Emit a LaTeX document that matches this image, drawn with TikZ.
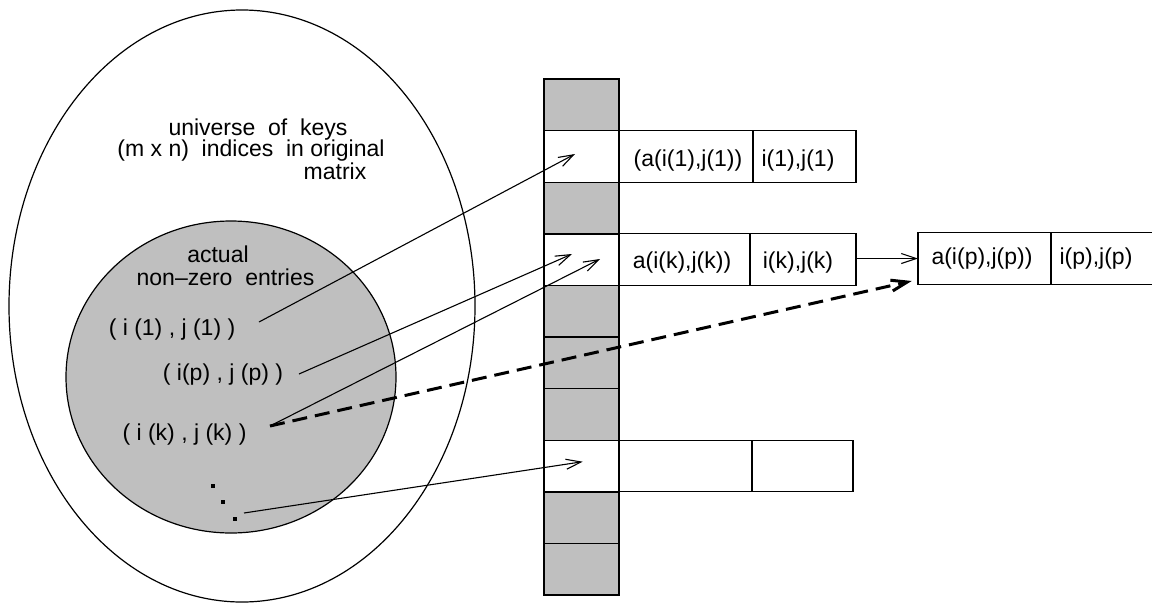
\documentclass[tikz,border=0pt]{standalone}
\usepackage{fontspec}
\setmainfont{Liberation Sans}
\usetikzlibrary{arrows.meta}
\definecolor{slotgray}{RGB}{191,191,191}
\tikzset{
  lbl/.style={font=\fontsize{23}{23}\selectfont, inner sep=0pt, anchor=base},
  slot/.style={minimum width=75pt, minimum height=51.6pt, inner sep=0pt, outer sep=0pt,
               fill=slotgray},
  slotfree/.style={slot, fill=white},
  slotline/.style={line width=1.4pt},
  field/.style={draw, line width=1.3pt, minimum height=51.6pt, inner sep=0pt,
                outer sep=0pt, fill=white},
  ptr/.style={line width=1.1pt, -{Straight Barb[length=15pt,width=10pt]}},
  chain/.style={line width=3pt, dash pattern=on 15pt off 8pt,
                -{Straight Barb[length=16pt,width=11pt]}},
}
\begin{document}
\begin{tikzpicture}[x=1pt,y=-1pt]
\useasboundingbox (0,0) rectangle (1152,603);
\clip (0,0) rectangle (1152,603);

% key sets
\draw[line width=1.2pt] (242,306) ellipse [x radius=233, y radius=296];
\draw[line width=1.2pt, fill=slotgray] (231,377) ellipse [x radius=165, y radius=156];

\node[lbl] (u1) at (258,135) {universe\ \ of\ \ keys};
\node[lbl] (u2) at (251,156.7) {(m x n)\ \ indices\ \ in original};
\node[lbl] (u3) at (335,179) {matrix};
\node[lbl] (a1) at (218,262.7) {actual};
\node[lbl] (a2) at (225.5,285) {non--zero\ \ entries};
\node[lbl] (k1) at (172,335) {( i (1) , j (1) )};
\node[lbl] (kp) at (223,380) {( i(p) , j (p) )};
\node[lbl] (kk) at (184.5,440) {( i (k) , j (k) )};
\fill (211.3,483.7) rectangle ++(4,4);
\fill (221.3,499.7) rectangle ++(4,4);
\fill (232.7,517) rectangle ++(4,4);

% hash table slots: fills first, then outlines so shared edges stay full width
\foreach \i in {0,2,4,5,6,8,9} {
  \node[slot] (c\i) at (581.5,{104.8+51.6*\i}) {};
}
\foreach \i in {1,3,7} {
  \node[slotfree] (c\i) at (581.5,{104.8+51.6*\i}) {};
}
\foreach \i in {0,...,9} {
  \draw[slotline] (c\i.north west) rectangle (c\i.south east);
}

% records
\node[field, minimum width=134pt] (r11) at (686,156.4) {};
\node[field, minimum width=103pt] (r12) at (804.5,156.4) {};
\node[field, minimum width=131pt] (r41) at (684.5,259.6) {};
\node[field, minimum width=106pt] (r42) at (803,259.6) {};
\node[field, minimum width=133pt] (r81) at (685.5,466) {};
\node[field, minimum width=101pt] (r82) at (802.5,466) {};
\node[field, minimum width=133pt] (p1) at (984.5,258.5) {};
\node[field, minimum width=134pt] (p2) at (1118,258.5) {};

\node[lbl] (t11) at (688,166) {(a(i(1),j(1))};
\node[lbl] (t12) at (798,166) {i(1),j(1)};
\node[lbl] (t41) at (682,268.3) {a(i(k),j(k))};
\node[lbl] (t42) at (798,268.3) {i(k),j(k)};
\node[lbl] (tp1) at (982,264.3) {a(i(p),j(p))};
\node[lbl] (tp2) at (1096,264.3) {i(p),j(p)};

% pointer ends
\coordinate (s1) at (259,322);
\coordinate (sp) at (299,374);
\coordinate (sk) at (270,426);
\coordinate (sd) at (244,513);
\coordinate (e1) at (575,154);
\coordinate (ep) at (572,254);
\coordinate (ek) at (600,259);
\coordinate (ed) at (582.7,461.7);
\coordinate (en) at (911.7,281);

\draw[ptr] (s1) -- (e1);
\draw[ptr] (sp) -- (ep);
\draw[ptr] (sk) -- (ek);
\draw[ptr] (sd) -- (ed);
\draw[ptr] (r42.east |- 0,258.5) -- (p1.west);
\draw[chain] (sk) -- (en);
\end{tikzpicture}
\end{document}
